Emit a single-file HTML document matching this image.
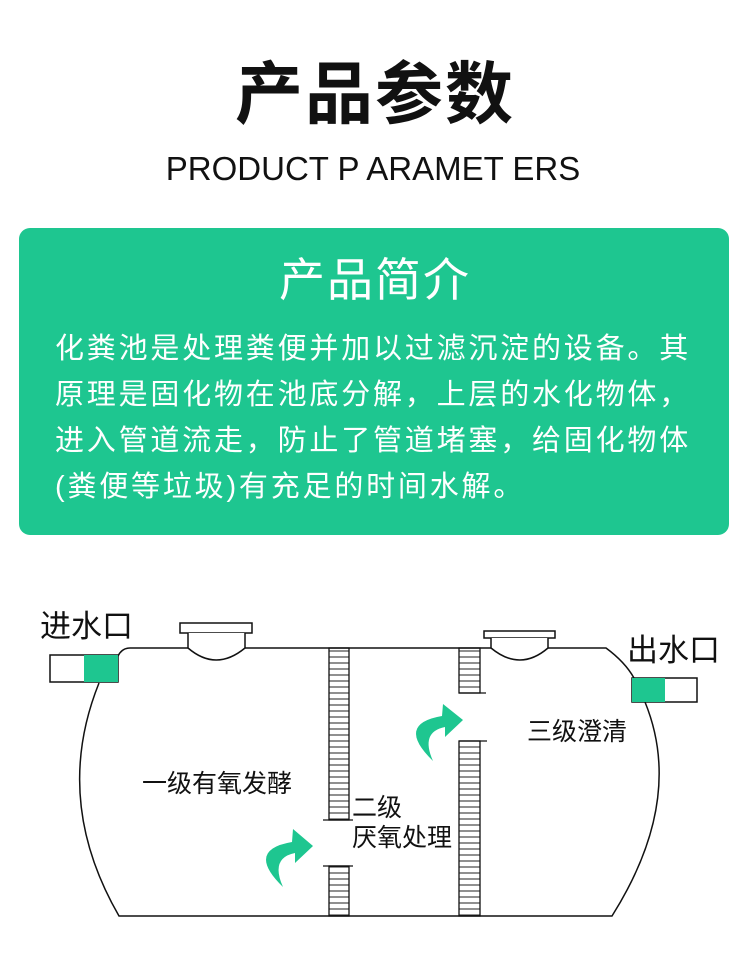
<!DOCTYPE html>
<html><head><meta charset="utf-8"><style>
body{margin:0;width:750px;height:968px;background:#fff;position:relative;overflow:hidden;font-family:"Liberation Sans","Noto Sans CJK SC",sans-serif;}
.t{position:absolute;white-space:nowrap;}
</style></head><body>
<div class="t" style="left:0;width:750px;text-align:center;top:52px;font-size:68px;font-weight:bold;color:#111;letter-spacing:2px;line-height:86px;">产品参数</div>
<div class="t" style="left:0;width:746px;text-align:center;top:147px;font-size:33px;color:#111;line-height:44px;">PRODUCT P ARAMET ERS</div>
<div style="position:absolute;left:19px;top:228px;width:710px;height:307px;background:#1ec690;border-radius:11px;"></div>
<div class="t" style="left:0;width:750px;text-align:center;top:250px;font-size:46px;color:#fff;line-height:60px;letter-spacing:2px;">产品简介</div>
<div class="t" style="left:55px;top:326px;font-size:29px;color:#fff;line-height:46px;letter-spacing:2.8px;">化粪池是处理粪便并加以过滤沉淀的设备。其<br>原理是固化物在池底分解，上层的水化物体，<br>进入管道流走，防止了管道堵塞，给固化物体<br>(粪便等垃圾)有充足的时间水解。</div>

<svg style="position:absolute;left:0;top:0" width="750" height="968">
<defs><pattern id="r" width="20" height="6" patternUnits="userSpaceOnUse"><line x1="0" y1="3" x2="20" y2="3" stroke="#222" stroke-width="1"/></pattern></defs>
<g fill="none" stroke="#111" stroke-width="1.5">
<path d="M99,683 Q52,800 119,916 L612,916 Q685,800 645,702"/>
<path d="M118,656 Q122,648 130,648 L606,648 Q625,662 634,678"/>
<rect x="50" y="655" width="68" height="27" fill="#fff"/>
<rect x="632" y="678" width="65" height="24" fill="#fff"/>
<rect x="180" y="623" width="72" height="10" fill="#fff"/>
<path d="M188,633 L188,648 Q216,672 245,648 L245,633" fill="#fff"/>
<rect x="484" y="631" width="71" height="7" fill="#fff"/>
<path d="M491,638 L491,648 Q520,672 548,648 L548,638" fill="#fff"/>
</g>
<rect x="84" y="655" width="34" height="27" fill="#1ec690"/>
<rect x="632" y="678" width="33" height="24" fill="#1ec690"/>
<g stroke="#111" stroke-width="1.3">
<rect x="329" y="648" width="20" height="172" fill="url(#r)"/>
<rect x="329" y="866" width="20" height="50" fill="url(#r)"/>
<line x1="323" y1="820" x2="353" y2="820"/><line x1="323" y1="866" x2="353" y2="866"/>
<rect x="459" y="648" width="21" height="45" fill="url(#r)"/>
<rect x="459" y="741" width="21" height="175" fill="url(#r)"/>
<line x1="459" y1="693" x2="486" y2="693"/><line x1="459" y1="741" x2="487" y2="741"/>
</g>
<path d="M283,887 Q245,850 292,842 L293,829 L313,846 L295,863 L295,853 Q270,858 283,887 Z" fill="#1ec690"/>
<path d="M433,761 Q395,724 442,716 L443,704 L463,720 L445,737 L445,727 Q420,732 433,761 Z" fill="#1ec690"/>
<g font-family="Liberation Sans,Noto Sans CJK SC,sans-serif" fill="#111">
<text x="40" y="637" font-size="31">进水口</text>
<text x="627" y="661" font-size="31">出水口</text>
<text x="142" y="792" font-size="25">一级有氧发酵</text>
<text x="352" y="816" font-size="25">二级</text>
<text x="352" y="846" font-size="25">厌氧处理</text>
<text x="527" y="740" font-size="25">三级澄清</text>
</g>
</svg>
</body></html>
